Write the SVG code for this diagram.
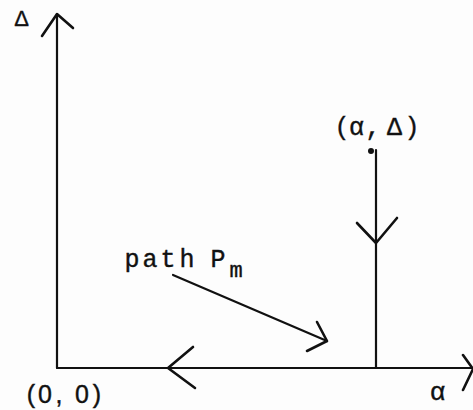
<svg xmlns="http://www.w3.org/2000/svg" width="473" height="410" viewBox="0 0 473 410">
<style>
.ln{stroke:#111;stroke-width:2.2;fill:none;stroke-linecap:round;stroke-linejoin:round}
.hd{stroke:#111;stroke-width:2.6;fill:none;stroke-linecap:round;stroke-linejoin:round}
.t{font-family:"Liberation Mono","DejaVu Sans Mono",monospace;fill:#111;stroke:#111;stroke-width:0.4;text-anchor:middle}
.s{font-family:"Liberation Sans","DejaVu Sans",sans-serif;fill:#111;stroke:#111;stroke-width:0.4;text-anchor:middle}
</style>
<rect width="473" height="410" fill="#fdfdfd"/>
<g id="connectors">
<line class="ln" x1="57" y1="368" x2="57" y2="14"/>
<line class="ln" x1="57" y1="368" x2="473" y2="368"/>
<line class="ln" x1="376" y1="150" x2="376" y2="368"/>
<line class="ln" x1="173" y1="275" x2="327" y2="341"/>
<polyline class="hd" points="42,36 57,14 73,28"/>
<polyline class="hd" points="463,355 473,369 463,390"/>
<polyline class="hd" points="357,223 376,243 397,218"/>
<polyline class="hd" points="193,347 168,368 195,388"/>
<polyline class="hd" points="317,322 327,341 307,351"/>
</g>
<g id="axis-delta-label">
<text class="s" x="21.5" y="25.5" font-size="22">Δ</text>
</g>
<g id="axis-alpha-label">
<text class="t" x="437.5" y="400" font-size="26">α</text>
</g>
<g id="origin">
<text class="s" x="31 45 59 82 97" y="403" font-size="25">(0,0)</text>
</g>
<g id="point-alpha-delta">
<circle cx="371" cy="151" r="3" fill="#111"/>
<text class="t" x="342 356.5 373 394.5 412" y="135" font-size="25">(α,Δ)</text>
</g>
<g id="path-label">
<text class="t" x="132 150 168 187 203 218" y="267" font-size="25">path P</text>
<text class="t" x="236" y="277" font-size="22">m</text>
</g>
</svg>
